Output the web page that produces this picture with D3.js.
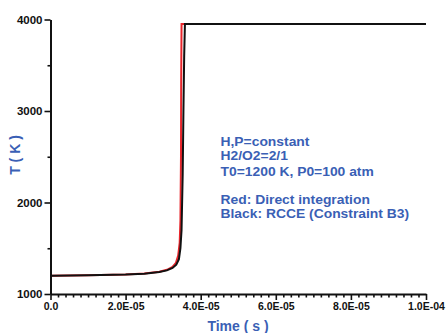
<!DOCTYPE html>
<html><head><meta charset="utf-8">
<script src="https://cdn.jsdelivr.net/npm/d3@7"></script>
<style>body{margin:0;background:#fff}svg{display:block}</style>
</head><body>
<script>
// time in seconds, temperature in K
const blackTime = [0.04e-5,1e-5,2e-5,2.5e-5,2.9e-5,3.1e-5,3.25e-5,3.35e-5,3.42e-5,3.46e-5,3.49e-5,3.52e-5,3.54e-5,3.56e-5,3.58e-5,1e-4];
const blackTemp = [1200,1205,1212,1222,1240,1258,1285,1320,1380,1500,1700,2300,3000,3600,3950,3950];
const redTime = [0,1e-5,2e-5,2.5e-5,2.9e-5,3.1e-5,3.25e-5,3.34e-5,3.4e-5,3.44e-5,3.46e-5,3.475e-5,3.48e-5,3.49e-5,1e-4];
const redTemp = [1200,1205,1213,1224,1244,1264,1295,1340,1420,1560,1800,2500,3300,3950,3950];
const yMajor = [1000,2000,3000,4000];
const yMinor = [1500,2500,3500];
const xMajor = [0,2e-5,4e-5,6e-5,8e-5,1e-4];
const xMajorLabels = ["0.0","2.0E-05","4.0E-05","6.0E-05","8.0E-05","1.0E-04"];
const xMinor = d3.range(0,51).map(i=>i*2e-6).filter((v,i)=>i%10!==0);
const noteLines = ["H,P=constant","H2/O2=2/1","T0=1200 K, P0=100 atm","","Red: Direct integration","Black: RCCE (Constraint B3)"];
const xTitle = "Time ( s )", yTitle = "T ( K )";

const W=447,H=333, blue="#3a5fb5";
const svg=d3.select("body").append("svg").attr("width",W).attr("height",H);
const x=d3.scaleLinear().domain([0,1e-4]).range([50.5,426]);
const y=d3.scaleLinear().domain([1000,4000]).range([294,19.5]);
const font="'Liberation Sans', Arial, sans-serif";

// lines
const line=d3.line().x(d=>x(d[0])).y(d=>y(d[1]));
svg.append("path").datum(d3.zip(redTime,redTemp)).attr("d",line)
  .attr("fill","none").attr("stroke","#e8252b").attr("stroke-width",2);
svg.append("path").datum(d3.zip(blackTime,blackTemp)).attr("d",line)
  .attr("fill","none").attr("stroke","#111").attr("stroke-width",2);

// y axis
const gy=svg.append("g").attr("transform","translate(50.5,0)");
gy.call(d3.axisLeft(y).tickValues(yMajor).tickSize(6).tickSizeOuter(0).tickFormat(d3.format("d")).tickPadding(2));
gy.append("g").call(d3.axisLeft(y).tickValues(yMinor).tickSize(3).tickFormat("")).select(".domain").remove();
// x axis
const gx=svg.append("g").attr("transform","translate(0,294)");
gx.call(d3.axisBottom(x).tickValues(xMajor).tickSize(6).tickSizeOuter(0).tickFormat((d,i)=>xMajorLabels[i]).tickPadding(3));
gx.append("g").call(d3.axisBottom(x).tickValues(xMinor).tickSize(3.5).tickFormat("")).select(".domain").remove();

svg.selectAll(".domain").attr("stroke","#111").attr("stroke-width",2);
svg.selectAll(".tick line").attr("stroke","#111").attr("stroke-width",1.6);
gy.selectAll("text").attr("font-family",font).attr("font-weight","bold").attr("font-size","11.5px").attr("fill","#111");
gx.selectAll("text").attr("font-family",font).attr("font-weight","bold").attr("font-size","10.5px").attr("fill","#111");

// titles
svg.append("text").attr("x",238).attr("y",331).attr("text-anchor","middle")
  .attr("font-family",font).attr("font-weight","bold").attr("font-size","14px").attr("fill",blue).text(xTitle);
svg.append("text").attr("transform","translate(20,155) rotate(-90)").attr("text-anchor","middle")
  .attr("font-family",font).attr("font-weight","bold").attr("font-size","14px").attr("fill",blue).text(yTitle);

// notes
const noteY=[146,160,176,189,204,218.5];
const gn=svg.append("g").attr("transform","translate(220.5,0) scale(1.11,1)");
noteLines.forEach((t,i)=>{ if(!t) return;
  gn.append("text").attr("x",0).attr("y",noteY[i]).attr("font-family",font).attr("font-weight","bold")
    .attr("font-size","12.5px").attr("fill",blue).text(t);
});
</script>
</body></html>
